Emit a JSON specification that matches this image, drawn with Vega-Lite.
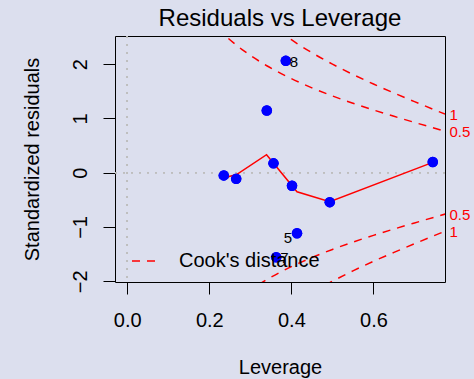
{
  "$schema": "https://vega.github.io/schema/vega-lite/v6.json",
  "width": 330,
  "height": 246,
  "autosize": "none",
  "padding": {"left": 115, "top": 36, "right": 29, "bottom": 97},
  "background": "#dcdfee",
  "title": {"text": "Residuals vs Leverage", "fontSize": 24, "font": "Liberation Sans", "fontWeight": "normal", "color": "black", "offset": 10, "dy": 24, "baseline": "alphabetic", "anchor": "middle"},
  "config": {
    "font": "Liberation Sans",
    "view": {"stroke": "black", "strokeWidth": 1},
    "axis": {"labelFont": "Liberation Sans", "titleFont": "Liberation Sans", "tickColor": "black", "labelColor": "black", "titleColor": "black", "titleFontWeight": "normal", "grid": false, "domain": false}
  },
  "datasets": {
    "points": [
      {"leverage": 0.2353, "resid": -0.050, "id": ""},
      {"leverage": 0.2655, "resid": -0.114, "id": ""},
      {"leverage": 0.3401, "resid": 1.144, "id": ""},
      {"leverage": 0.3564, "resid": 0.172, "id": ""},
      {"leverage": 0.3864, "resid": 2.060, "id": "8"},
      {"leverage": 0.4015, "resid": -0.240, "id": ""},
      {"leverage": 0.4935, "resid": -0.543, "id": ""},
      {"leverage": 0.4137, "resid": -1.115, "id": "5"},
      {"leverage": 0.3630, "resid": -1.558, "id": "7"},
      {"leverage": 0.7445, "resid": 0.196, "id": ""}
    ],
    "smooth": [
      {"leverage": 0.2353, "resid": -0.092},
      {"leverage": 0.2655, "resid": -0.040},
      {"leverage": 0.3395, "resid": 0.332},
      {"leverage": 0.4137, "resid": -0.351},
      {"leverage": 0.4935, "resid": -0.533},
      {"leverage": 0.7445, "resid": 0.190}
    ],
    "cook": [
      {"curve": "u0.5", "kind": "Cook's distance", "leverage": 0.22, "resid": 2.663},
      {"curve": "u0.5", "kind": "Cook's distance", "leverage": 0.24, "resid": 2.517},
      {"curve": "u0.5", "kind": "Cook's distance", "leverage": 0.26, "resid": 2.386},
      {"curve": "u0.5", "kind": "Cook's distance", "leverage": 0.28, "resid": 2.268},
      {"curve": "u0.5", "kind": "Cook's distance", "leverage": 0.30, "resid": 2.160},
      {"curve": "u0.5", "kind": "Cook's distance", "leverage": 0.32, "resid": 2.062},
      {"curve": "u0.5", "kind": "Cook's distance", "leverage": 0.34, "resid": 1.970},
      {"curve": "u0.5", "kind": "Cook's distance", "leverage": 0.36, "resid": 1.886},
      {"curve": "u0.5", "kind": "Cook's distance", "leverage": 0.38, "resid": 1.806},
      {"curve": "u0.5", "kind": "Cook's distance", "leverage": 0.40, "resid": 1.732},
      {"curve": "u0.5", "kind": "Cook's distance", "leverage": 0.42, "resid": 1.662},
      {"curve": "u0.5", "kind": "Cook's distance", "leverage": 0.45, "resid": 1.563},
      {"curve": "u0.5", "kind": "Cook's distance", "leverage": 0.50, "resid": 1.414},
      {"curve": "u0.5", "kind": "Cook's distance", "leverage": 0.55, "resid": 1.279},
      {"curve": "u0.5", "kind": "Cook's distance", "leverage": 0.60, "resid": 1.155},
      {"curve": "u0.5", "kind": "Cook's distance", "leverage": 0.65, "resid": 1.038},
      {"curve": "u0.5", "kind": "Cook's distance", "leverage": 0.70, "resid": 0.926},
      {"curve": "u0.5", "kind": "Cook's distance", "leverage": 0.7745, "resid": 0.763},
      {"curve": "l0.5", "kind": "Cook's distance", "leverage": 0.32, "resid": -2.062},
      {"curve": "l0.5", "kind": "Cook's distance", "leverage": 0.34, "resid": -1.970},
      {"curve": "l0.5", "kind": "Cook's distance", "leverage": 0.36, "resid": -1.886},
      {"curve": "l0.5", "kind": "Cook's distance", "leverage": 0.38, "resid": -1.806},
      {"curve": "l0.5", "kind": "Cook's distance", "leverage": 0.40, "resid": -1.732},
      {"curve": "l0.5", "kind": "Cook's distance", "leverage": 0.42, "resid": -1.662},
      {"curve": "l0.5", "kind": "Cook's distance", "leverage": 0.45, "resid": -1.563},
      {"curve": "l0.5", "kind": "Cook's distance", "leverage": 0.50, "resid": -1.414},
      {"curve": "l0.5", "kind": "Cook's distance", "leverage": 0.55, "resid": -1.279},
      {"curve": "l0.5", "kind": "Cook's distance", "leverage": 0.60, "resid": -1.155},
      {"curve": "l0.5", "kind": "Cook's distance", "leverage": 0.65, "resid": -1.038},
      {"curve": "l0.5", "kind": "Cook's distance", "leverage": 0.70, "resid": -0.926},
      {"curve": "l0.5", "kind": "Cook's distance", "leverage": 0.7745, "resid": -0.763},
      {"curve": "u1", "kind": "Cook's distance", "leverage": 0.34, "resid": 2.787},
      {"curve": "u1", "kind": "Cook's distance", "leverage": 0.36, "resid": 2.667},
      {"curve": "u1", "kind": "Cook's distance", "leverage": 0.38, "resid": 2.555},
      {"curve": "u1", "kind": "Cook's distance", "leverage": 0.40, "resid": 2.449},
      {"curve": "u1", "kind": "Cook's distance", "leverage": 0.42, "resid": 2.350},
      {"curve": "u1", "kind": "Cook's distance", "leverage": 0.45, "resid": 2.211},
      {"curve": "u1", "kind": "Cook's distance", "leverage": 0.50, "resid": 2.000},
      {"curve": "u1", "kind": "Cook's distance", "leverage": 0.55, "resid": 1.809},
      {"curve": "u1", "kind": "Cook's distance", "leverage": 0.60, "resid": 1.633},
      {"curve": "u1", "kind": "Cook's distance", "leverage": 0.65, "resid": 1.468},
      {"curve": "u1", "kind": "Cook's distance", "leverage": 0.70, "resid": 1.309},
      {"curve": "u1", "kind": "Cook's distance", "leverage": 0.7745, "resid": 1.079},
      {"curve": "l1", "kind": "Cook's distance", "leverage": 0.45, "resid": -2.211},
      {"curve": "l1", "kind": "Cook's distance", "leverage": 0.50, "resid": -2.000},
      {"curve": "l1", "kind": "Cook's distance", "leverage": 0.55, "resid": -1.809},
      {"curve": "l1", "kind": "Cook's distance", "leverage": 0.60, "resid": -1.633},
      {"curve": "l1", "kind": "Cook's distance", "leverage": 0.65, "resid": -1.468},
      {"curve": "l1", "kind": "Cook's distance", "leverage": 0.70, "resid": -1.309},
      {"curve": "l1", "kind": "Cook's distance", "leverage": 0.7745, "resid": -1.079}
    ]
  },
  "resolve": {"scale": {"y": "shared", "x": "shared"}, "axis": {"y": "independent"}},
  "layer": [
    {
      "data": {"name": "points"},
      "mark": {"type": "circle", "color": "#0000ff", "size": 110, "opacity": 1},
      "encoding": {
        "x": {"field": "leverage", "type": "quantitative", "title": "Leverage", "scale": {"domain": [-0.0298, 0.7743], "nice": false, "zero": false}, "axis": {"values": [0, 0.2, 0.4, 0.6], "format": ".1f", "labelFontSize": 20, "tickSize": 12, "labelPadding": 16, "labelBaseline": "top", "titleFontSize": 20, "titleBaseline": "alphabetic", "titleY": 91}},
        "y": {"field": "resid", "type": "quantitative", "title": "Standardized residuals", "scale": {"domain": [-2.014, 2.518], "nice": false, "zero": false}, "axis": {"orient": "left", "values": [-2, -1, 0, 1, 2], "labelFontSize": 20, "tickSize": 12, "labelAngle": 270, "labelAlign": "center", "labelBaseline": "alphabetic", "labelPadding": 17, "titleFontSize": 20, "titleAngle": 270, "titleBaseline": "alphabetic", "titleX": -77, "titleY": 123}}
      }
    },
    {
      "data": {"name": "points"},
      "mark": {"type": "rule", "color": "#bebebe", "strokeDash": [2, 6], "strokeWidth": 1},
      "encoding": {"x": {"datum": 0, "type": "quantitative"}}
    },
    {
      "data": {"name": "points"},
      "mark": {"type": "rule", "color": "#bebebe", "strokeDash": [2, 6], "strokeWidth": 1},
      "encoding": {"y": {"datum": 0, "type": "quantitative", "axis": null}}
    },
    {
      "data": {"name": "cook"},
      "mark": {"type": "line", "color": "#ff0000", "strokeWidth": 1.5, "clip": true, "interpolate": "monotone"},
      "encoding": {
        "x": {"field": "leverage", "type": "quantitative"},
        "y": {"field": "resid", "type": "quantitative", "axis": {"orient": "right", "values": [-1.079, -0.763, 0.763, 1.079], "labelExpr": "abs(datum.value) > 0.9 ? '1' : '0.5'", "labelColor": "#ff0000", "labelFontSize": 15, "tickSize": 0, "labelPadding": 4, "title": null, "labelAlign": "left", "labelBaseline": "middle"}},
        "detail": {"field": "curve", "type": "nominal"},
        "order": {"field": "leverage", "type": "quantitative"},
        "strokeDash": {"field": "kind", "type": "nominal", "scale": {"range": [[8, 7]]}, "legend": {"title": null, "orient": "none", "legendX": 16, "legendY": 212, "padding": 0, "symbolType": "stroke", "symbolSize": 576, "symbolStrokeColor": "#ff0000", "symbolStrokeWidth": 1.5, "labelFontSize": 20, "labelColor": "black", "labelOffset": 22, "labelFont": "Liberation Sans"}}
      }
    },
    {
      "data": {"name": "smooth"},
      "mark": {"type": "line", "color": "#ff0000", "strokeWidth": 1.5},
      "encoding": {
        "x": {"field": "leverage", "type": "quantitative"},
        "y": {"field": "resid", "type": "quantitative", "axis": null}
      }
    },
    {
      "data": {"name": "points"},
      "mark": {"type": "circle", "color": "#0000ff", "size": 110, "opacity": 1},
      "encoding": {
        "x": {"field": "leverage", "type": "quantitative"},
        "y": {"field": "resid", "type": "quantitative", "axis": null}
      }
    },
    {
      "data": {"name": "points"},
      "transform": [{"filter": "datum.id == '8' || datum.id == '7'"}],
      "mark": {"type": "text", "align": "left", "baseline": "middle", "dx": 4, "dy": 1, "fontSize": 15, "color": "black"},
      "encoding": {
        "x": {"field": "leverage", "type": "quantitative"},
        "y": {"field": "resid", "type": "quantitative", "axis": null},
        "text": {"field": "id"}
      }
    },
    {
      "data": {"name": "points"},
      "transform": [{"filter": "datum.id == '5'"}],
      "mark": {"type": "text", "align": "right", "baseline": "middle", "dx": -5, "dy": 5, "fontSize": 15, "color": "black"},
      "encoding": {
        "x": {"field": "leverage", "type": "quantitative"},
        "y": {"field": "resid", "type": "quantitative", "axis": null},
        "text": {"field": "id"}
      }
    }
  ]
}
